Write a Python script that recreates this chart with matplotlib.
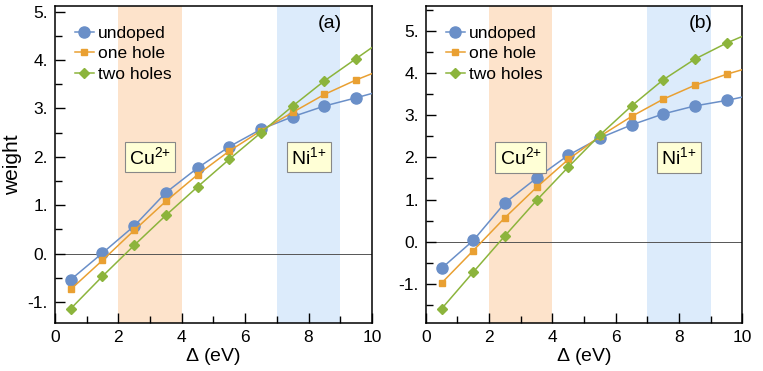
import numpy as np
import matplotlib.pyplot as plt
from matplotlib.ticker import MultipleLocator, FuncFormatter

plt.rcParams.update({'font.family': ['Liberation Sans', 'DejaVu Sans'],
                     'mathtext.default': 'regular',
                     'font.size': 12})

# Delta values (eV); last point sits just past the axis edge so the line runs to x=10
delta = [0.5, 1.5, 2.5, 3.5, 4.5, 5.5, 6.5, 7.5, 8.5, 9.5, 10.5]

# panel (a)
a_undoped = [-0.54, 0.01, 0.57, 1.26, 1.77, 2.21, 2.57, 2.83, 3.05, 3.22, 3.40]
a_one_hole = [-0.74, -0.14, 0.48, 1.08, 1.63, 2.12, 2.54, 2.92, 3.29, 3.59, 3.85]
a_two_holes = [-1.14, -0.47, 0.17, 0.79, 1.38, 1.95, 2.50, 3.05, 3.57, 4.03, 4.49]

# panel (b)
b_undoped = [-0.63, 0.03, 0.92, 1.51, 2.05, 2.46, 2.77, 3.03, 3.22, 3.35, 3.51]
b_one_hole = [-0.98, -0.21, 0.57, 1.29, 1.95, 2.50, 2.97, 3.38, 3.71, 3.97, 4.19]
b_two_holes = [-1.59, -0.72, 0.14, 0.98, 1.77, 2.53, 3.22, 3.84, 4.33, 4.71, 5.03]

series_names = ['undoped', 'one hole', 'two holes']
colors = ['#6a8fc8', '#e9a032', '#8cb43c']
markers = ['o', 's', 'D']
msizes = [8, 5, 5]

fig = plt.figure(figsize=(7.63, 3.71), dpi=100)
ax_a = fig.add_axes([0.072, 0.129, 0.4155, 0.855])
ax_b = fig.add_axes([0.558, 0.129, 0.415, 0.855])


def draw_panel(ax, data, tag, ylim):
    ax.axvspan(2, 4, color='#fde3cb', lw=0, zorder=0)
    ax.axvspan(7, 9, color='#dcebfb', lw=0, zorder=0)
    ax.axhline(0, color='#555555', lw=0.7, zorder=1)
    for ys, name, c, m, ms in zip(data, series_names, colors, markers, msizes):
        ax.plot(delta, ys, '-', marker=m, color=c, ms=ms, lw=1.1, label=name, zorder=3)
    ax.set_xlim(0, 10)
    ax.set_ylim(*ylim)
    ax.xaxis.set_major_locator(MultipleLocator(2))
    ax.xaxis.set_minor_locator(MultipleLocator(1))
    ax.yaxis.set_major_locator(MultipleLocator(1))
    ax.yaxis.set_minor_locator(MultipleLocator(0.5))
    ax.yaxis.set_major_formatter(FuncFormatter(lambda v, p: '%d.' % round(v)))
    ax.tick_params(which='both', direction='in', top=False, right=False, labelsize=12.5)
    ax.tick_params(which='major', length=7, width=1, pad=5)
    ax.tick_params(which='minor', length=5, width=1)
    for s in ax.spines.values():
        s.set_linewidth(1.1)
    ax.set_xlabel('$\\Delta$ (eV)', fontsize=14, labelpad=1)
    ax.text(0.868, 0.946, tag, transform=ax.transAxes, fontsize=14, va='center', ha='center')
    box = dict(boxstyle='square,pad=0.22', fc='#ffffd6', ec='#888888', lw=0.8)
    ax.text(3.0, 2.0, 'Cu$^{2{+}}$', ha='center', va='center', fontsize=14, bbox=box, zorder=4)
    ax.text(8.0, 2.0, 'Ni$^{1{+}}$', ha='center', va='center', fontsize=14, bbox=box, zorder=4)
    ax.legend(loc='upper left', frameon=False, handlelength=1.1, handletextpad=0.25,
              borderaxespad=0.6, labelspacing=0.3, fontsize=12.5, borderpad=0.55)


draw_panel(ax_a, [a_undoped, a_one_hole, a_two_holes], '(a)', (-1.44, 5.12))
draw_panel(ax_b, [b_undoped, b_one_hole, b_two_holes], '(b)', (-1.93, 5.59))
ax_a.set_ylabel('weight', fontsize=15, labelpad=4)

fig.savefig('out.png', dpi=100)
